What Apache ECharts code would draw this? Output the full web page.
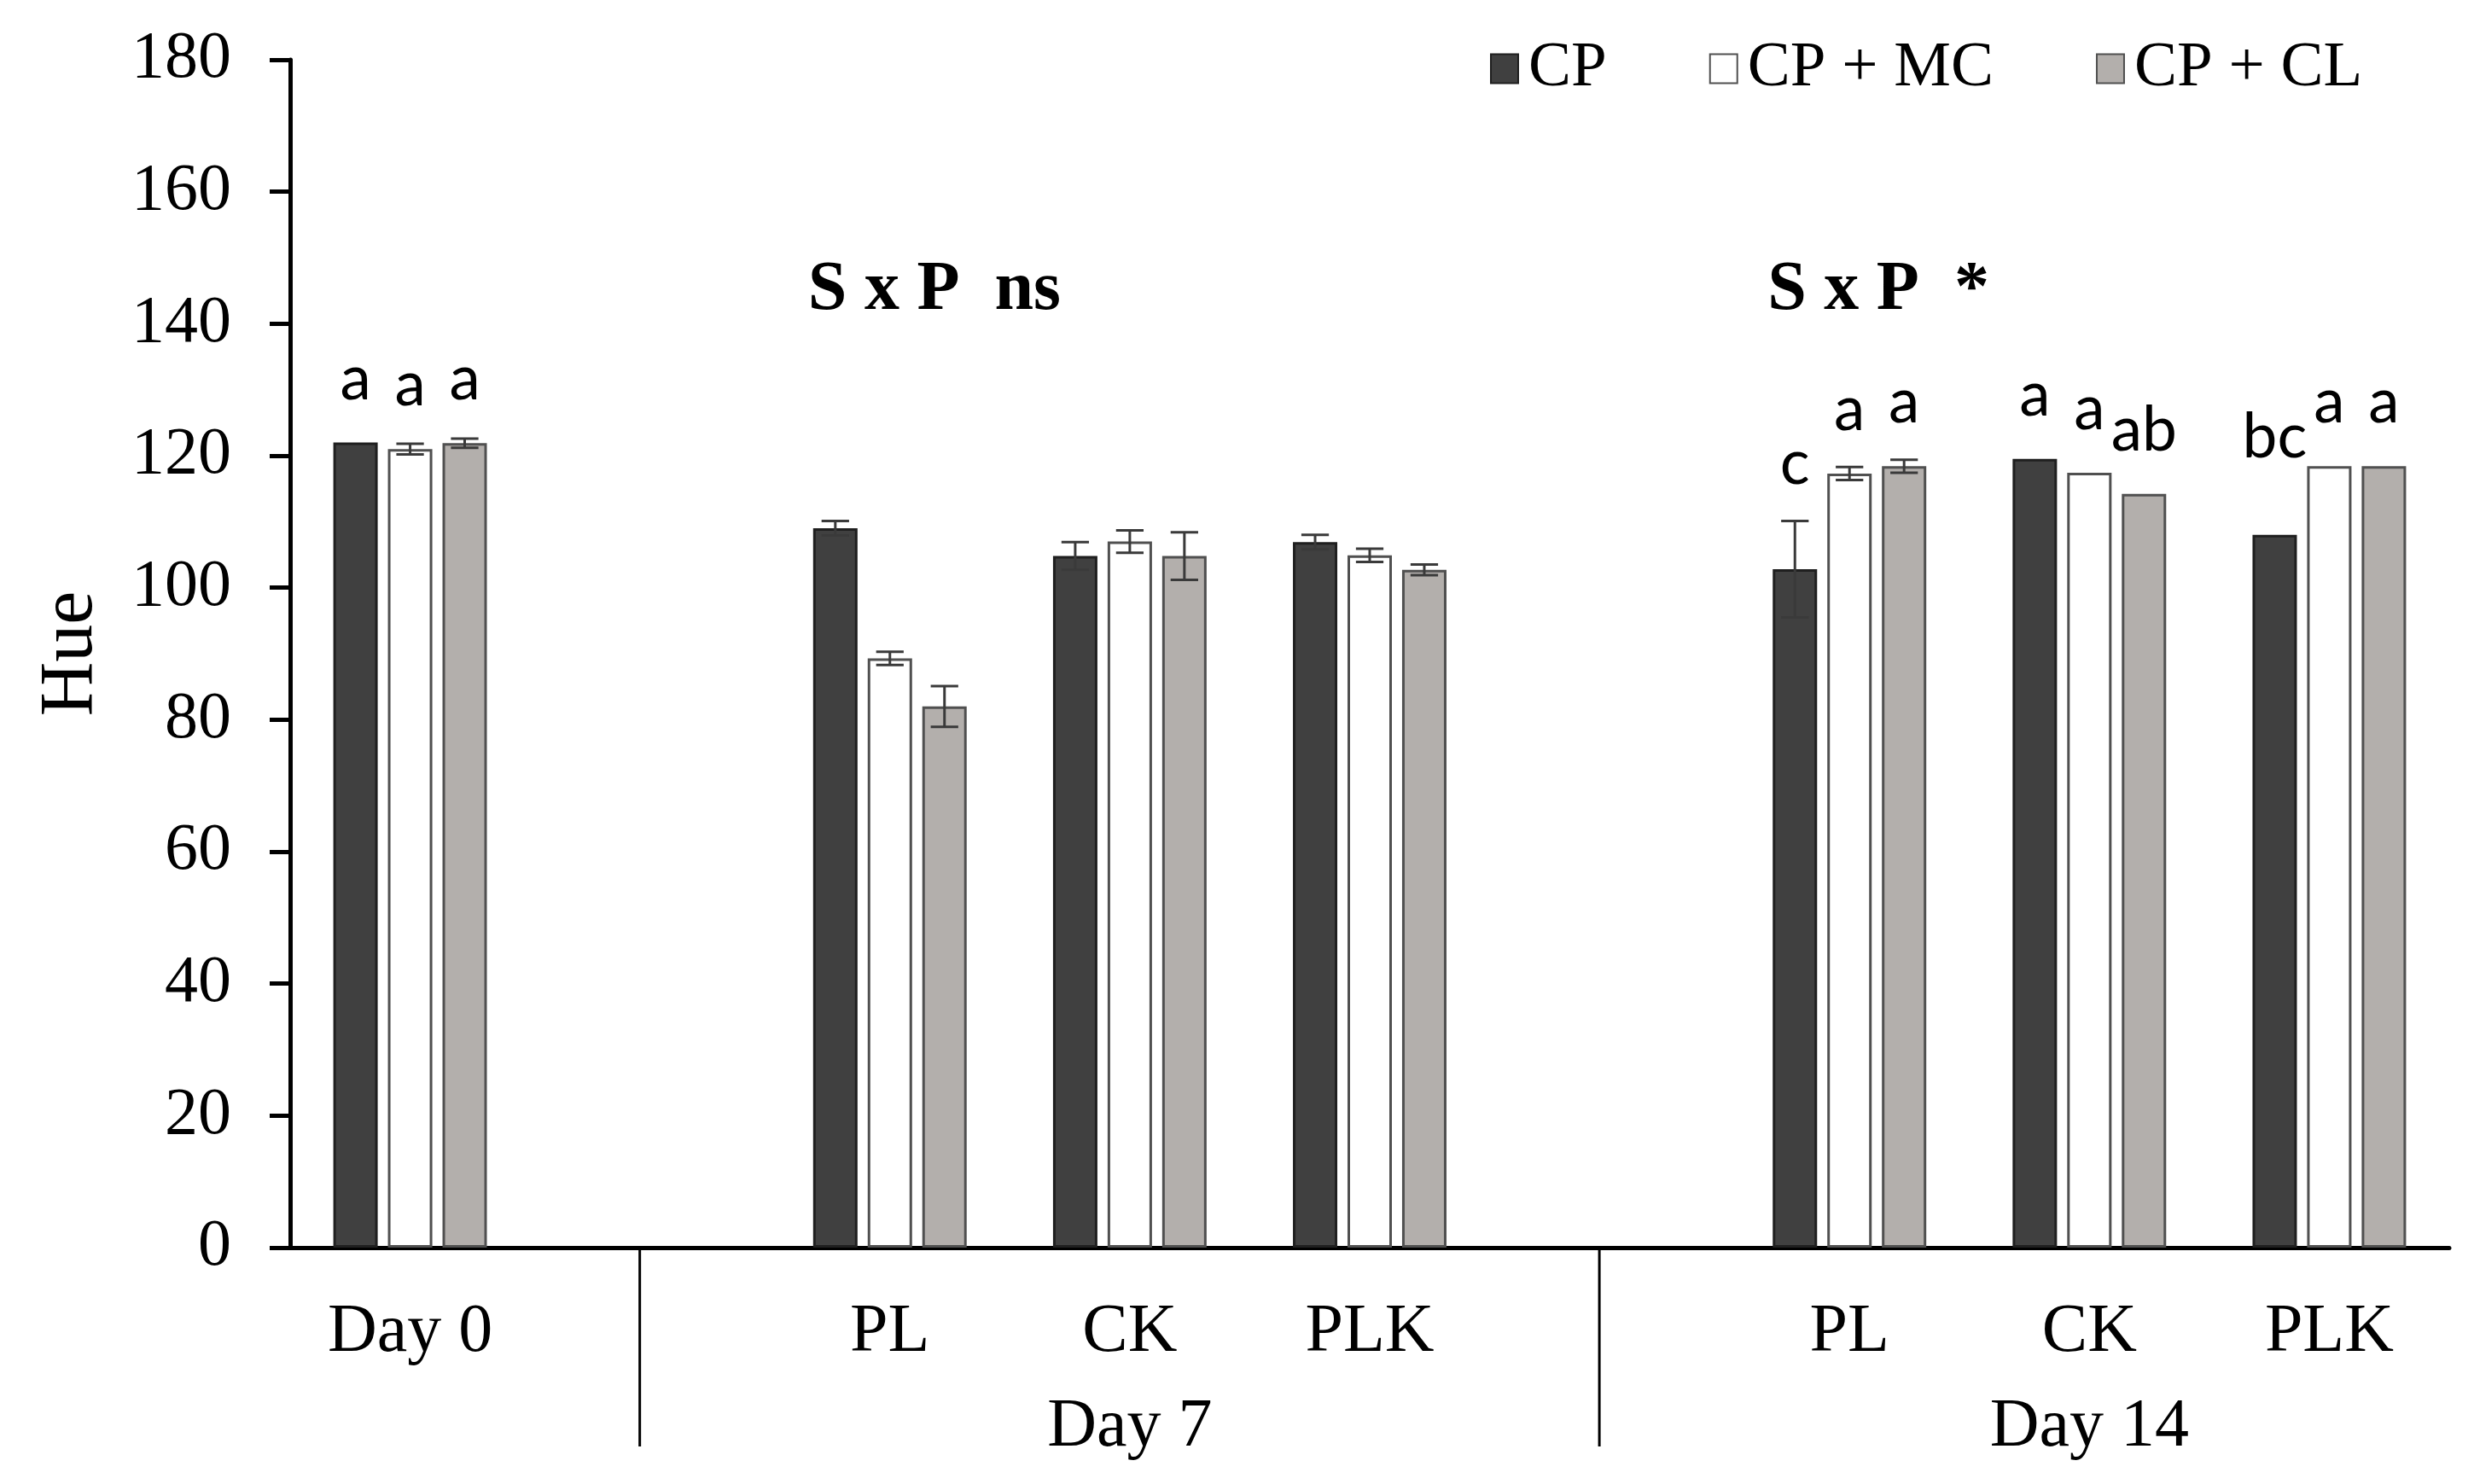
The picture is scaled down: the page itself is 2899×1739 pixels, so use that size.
<!DOCTYPE html>
<html>
<head>
<meta charset="utf-8">
<title>Hue</title>
<script src="https://cdn.jsdelivr.net/npm/echarts@6/dist/echarts.min.js"></script>
<style>
html, body { margin: 0; padding: 0; background: #fff; }
#Main { width: 2899px; height: 1739px; }
</style>
</head>
<body>
<div id="Main"></div>
<script>
// categories on the axis (empty slots are the gaps between days)
var categories = ['Day 0', '', 'PL', 'CK', 'PLK', '', 'PL', 'CK', 'PLK'];
var groupLabels = ['', '', '', 'Day 7', '', '', '', 'Day 14', ''];
var seriesNames = ['CP', 'CP + MC', 'CP + CL'];

// bar values
var cpValues = [122.0, '-', 109.0, 104.8, 106.9, '-', 102.8, 119.5, 108.0];
var mcValues = [121.0, '-', 89.3, 107.0, 104.9, '-', 117.3, 117.4, 118.4];
var clValues = [121.9, '-', 82.0, 104.8, 102.7, '-', 118.4, 114.2, 118.4];

// error (+/-)
var cpErr = [0, '-', 1.1, 2.1, 1.1, '-', 7.3, 0, 0];
var mcErr = [0.8, '-', 1.0, 1.7, 1.0, '-', 1.0, 0, 0];
var clErr = [0.7, '-', 3.1, 3.6, 0.8, '-', 1.0, 0, 0];

// significance letters
var cpLetters = ['a', '', '', '', '', '', 'c', 'a', 'bc'];
var mcLetters = ['a', '', '', '', '', '', 'a', 'a', 'a'];
var clLetters = ['a', '', '', '', '', '', 'a', 'ab', 'a'];

// interaction notes, placed over the first category of each day
var notes = ['S x P  ns', 'S x P  *'];
var noteAt = [2, 6];
var dividerAt = [1, 5];

var BAR_W = 0.185, BAR_GAP = 0.23;
var GRID = { left: 340, right: 29, top: 70, bottom: 277 };
var pxPerUnit = (1739 - GRID.top - GRID.bottom) / 180;
var serif = 'Liberation Serif';

function barData(values, letters, errs) {
	return values.map(function(v, i) {
		if (v === '-') return '-';
		var item = { value: v };
		if (letters[i]) {
			var lift = 0;
			if (errs[i] > 2) lift = errs[i] - 0.9;   // letter sits over a long error bar
			if (letters[i] == 'bc') lift = 5.1;      // raised in the original
			item.label = { show: true, formatter: letters[i], distance: 38 + lift * pxPerUnit };
		}
		return item;
	});
}

function errorSeries(values, errs, k) {
	var data = [];
	values.forEach(function(v, i) {
		if (v !== '-' && errs[i] > 0) data.push([i, v - errs[i], v + errs[i]]);
	});
	return {
		type: 'custom',
		silent: true,
		z: 5,
		encode: { x: 0, y: [1, 2] },
		data: data,
		renderItem: function(params, api) {
			var band = api.size([1, 0])[0];
			var bw = band * BAR_W;
			var off = (k - 1) * bw * (1 + BAR_GAP);
			var lo = api.coord([api.value(0), api.value(1)]);
			var hi = api.coord([api.value(0), api.value(2)]);
			var x = lo[0] + off, cap = bw * 0.31;
			var st = { stroke: '#3a3a3a', lineWidth: 3 };
			return {
				type: 'group',
				children: [
					{ type: 'line', shape: { x1: x, y1: hi[1], x2: x, y2: lo[1] }, style: st },
					{ type: 'line', shape: { x1: x - cap, y1: hi[1], x2: x + cap, y2: hi[1] }, style: st },
					{ type: 'line', shape: { x1: x - cap, y1: lo[1], x2: x + cap, y2: lo[1] }, style: st }
				]
			};
		}
	};
}

var letterLabel = {
	position: 'top',
	fontFamily: 'Lato',
	fontSize: 73,
	color: '#000'
};

var myChart = echarts.init(document.getElementById('Main'));
myChart.setOption({
	animation: false,
	backgroundColor: '#fff',
	textStyle: { fontFamily: serif, color: '#000' },
	grid: GRID,
	legend: {
		data: seriesNames,
		left: 1741,
		top: 38,
		icon: 'rect',
		itemWidth: 32,
		itemHeight: 34,
		itemGap: 120,
		textStyle: { fontFamily: serif, fontSize: 75, color: '#000', padding: [0, 0, 0, 7] }
	},
	xAxis: [{
		type: 'category',
		data: categories,
		axisLine: { lineStyle: { color: '#000', width: 5 } },
		axisTick: { show: false },
		axisLabel: { interval: 0, margin: 60, fontFamily: serif, fontSize: 80, color: '#000' }
	}, {
		type: 'category',
		data: groupLabels,
		position: 'bottom',
		axisLine: { show: false },
		axisTick: { show: false },
		axisLabel: { interval: 0, margin: 171, fontFamily: serif, fontSize: 80, color: '#000' }
	}],
	yAxis: {
		type: 'value',
		min: 0,
		max: 180,
		interval: 20,
		name: 'Hue',
		nameLocation: 'middle',
		nameGap: 212,
		nameTextStyle: { fontFamily: serif, fontSize: 88, color: '#000' },
		axisLine: { show: true, lineStyle: { color: '#000', width: 5 } },
		axisTick: { show: true, length: 24, lineStyle: { color: '#000', width: 5 } },
		splitLine: { show: false },
		axisLabel: { margin: 69, fontFamily: serif, fontSize: 78, color: '#000' }
	},
	series: [{
		name: seriesNames[0],
		type: 'bar',
		barWidth: (BAR_W * 100) + '%',
		barGap: (BAR_GAP * 100) + '%',
		itemStyle: { color: '#404040', borderColor: '#1f1f1f', borderWidth: 3 },
		label: letterLabel,
		data: barData(cpValues, cpLetters, cpErr)
	}, {
		name: seriesNames[1],
		type: 'bar',
		barWidth: (BAR_W * 100) + '%',
		barGap: (BAR_GAP * 100) + '%',
		itemStyle: { color: '#ffffff', borderColor: '#505050', borderWidth: 3 },
		label: letterLabel,
		data: barData(mcValues, mcLetters, mcErr)
	}, {
		name: seriesNames[2],
		type: 'bar',
		barWidth: (BAR_W * 100) + '%',
		barGap: (BAR_GAP * 100) + '%',
		itemStyle: { color: '#b3afac', borderColor: '#505050', borderWidth: 3 },
		label: letterLabel,
		data: barData(clValues, clLetters, clErr)
	},
	errorSeries(cpValues, cpErr, 0),
	errorSeries(mcValues, mcErr, 1),
	errorSeries(clValues, clErr, 2)
	]
});

// dividers under the axis and the S x P notes
var gfx = [];
var c0 = myChart.convertToPixel({ xAxisIndex: 0, yAxisIndex: 0 }, [0, 0]);
var c1 = myChart.convertToPixel({ xAxisIndex: 0, yAxisIndex: 0 }, [1, 0]);
var band = c1[0] - c0[0];
var groupW = band * BAR_W * (3 + 2 * BAR_GAP);
dividerAt.forEach(function(idx) {
	var p = myChart.convertToPixel({ xAxisIndex: 0, yAxisIndex: 0 }, [idx, 0]);
	gfx.push({
		type: 'line',
		shape: { x1: p[0] - 12, y1: p[1], x2: p[0] - 12, y2: p[1] + 233 },
		style: { stroke: '#000', lineWidth: 3 }
	});
});
notes.forEach(function(txt, n) {
	var p = myChart.convertToPixel({ xAxisIndex: 0, yAxisIndex: 0 }, [noteAt[n], 145]);
	gfx.push({
		type: 'text',
		x: p[0] - groupW / 2 - 6,
		y: p[1],
		style: {
			text: txt,
			fontFamily: serif,
			fontWeight: 'bold',
			fontSize: 82,
			fill: '#000',
			align: 'left',
			verticalAlign: 'middle'
		}
	});
});
myChart.setOption({ graphic: gfx });
</script>
</body>
</html>
